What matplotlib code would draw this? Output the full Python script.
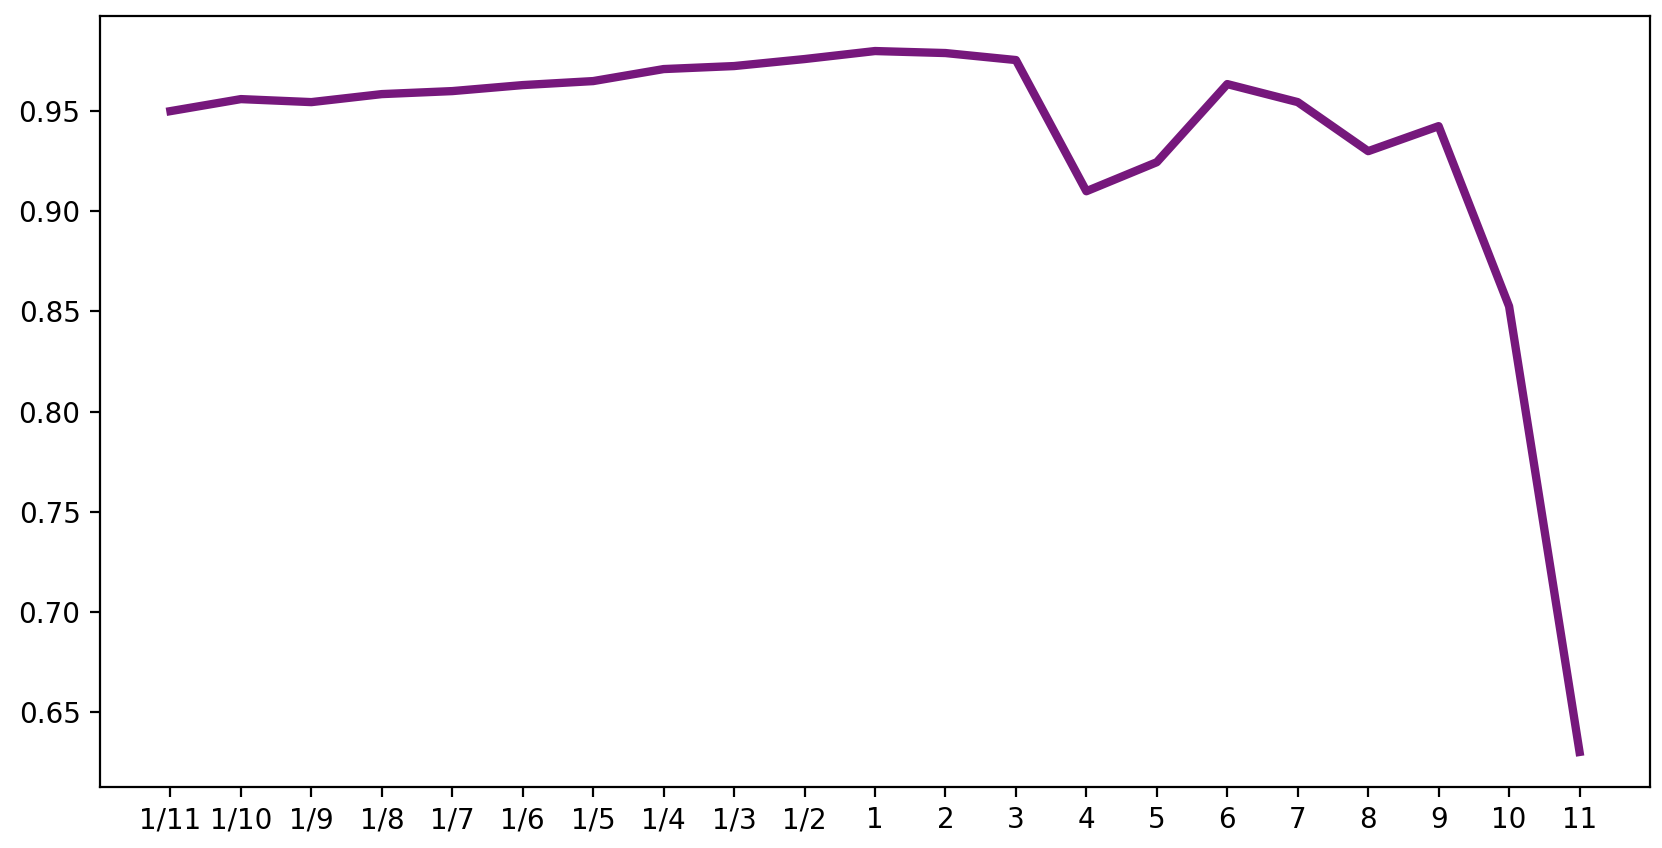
import matplotlib
matplotlib.use("Agg")
import matplotlib.pyplot as plt

categories = ["1/11", "1/10", "1/9", "1/8", "1/7", "1/6", "1/5", "1/4", "1/3", "1/2",
              "1", "2", "3", "4", "5", "6", "7", "8", "9", "10", "11"]
values = [0.950, 0.956, 0.9545, 0.9585, 0.960, 0.963, 0.965, 0.971, 0.9725, 0.976,
          0.980, 0.979, 0.9755, 0.910, 0.9245, 0.9635, 0.9545, 0.930, 0.9425, 0.8525, 0.630]

fig = plt.figure(figsize=(8.31, 4.24), dpi=200)
ax = fig.add_axes([100 / 1662, 1 - 787 / 848, 1550 / 1662, (787 - 16) / 848])
x = list(range(len(categories)))
ax.plot(x, values, color="#76187c", linewidth=3)
ax.set_xticks(x)
ax.set_xticklabels(categories)
fig.savefig("out.png", dpi=200)
